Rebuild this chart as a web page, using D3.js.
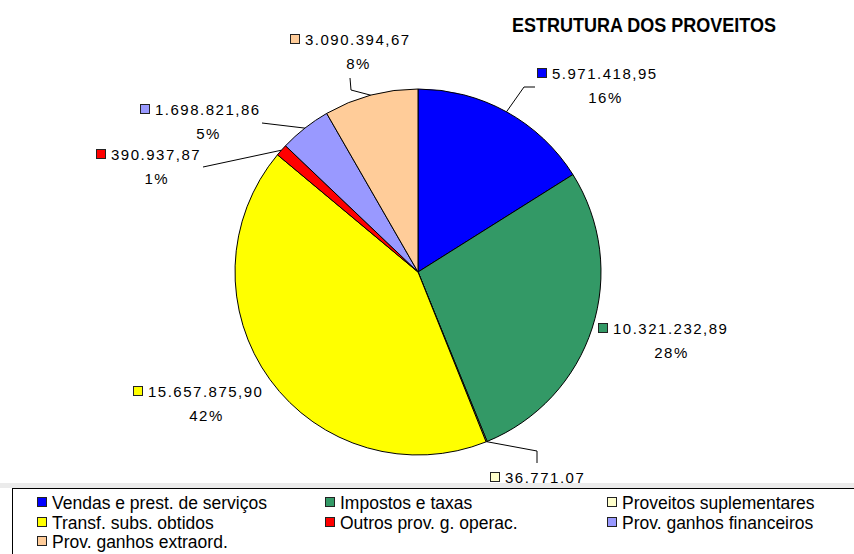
<!DOCTYPE html>
<html>
<head>
<meta charset="utf-8">
<script src="https://cdn.jsdelivr.net/npm/d3@7/dist/d3.min.js"></script>
<style>
  html, body { margin: 0; padding: 0; background: #fff; }
  svg { display: block; }
  text { font-family: "Liberation Sans", Arial, sans-serif; fill: #000; }
</style>
</head>
<body>
<svg id="chart" width="854" height="554"></svg>
<script>
// ---- data ----
const categories = [
  "Vendas e prest. de serviços",
  "Impostos e taxas",
  "Proveitos suplementares",
  "Transf. subs. obtidos",
  "Outros prov. g. operac.",
  "Prov. ganhos financeiros",
  "Prov. ganhos extraord."
];
const values = [5971418.95, 10321232.89, 36771.07, 15657875.90, 390937.87, 1698821.86, 3090394.67];
const valueLabels = ["5.971.418,95", "10.321.232,89", "36.771,07", "15.657.875,90", "390.937,87", "1.698.821,86", "3.090.394,67"];
const percentLabels = ["16%", "28%", "0%", "42%", "1%", "5%", "8%"];
const title = "ESTRUTURA DOS PROVEITOS";

// ---- styles / layout ----
const colors = ["#0000FF", "#339966", "#FFFFCC", "#FFFF00", "#FF0000", "#9999FF", "#FFCC99"];
const cx = 418, cy = 272, R = 183;
// label text start/baseline and leader elbows (annotation layout)
const labelLayout = [
  { tx: 552, ty: 79,  leader: [[524, 87], [535, 87]], pct: true },
  { tx: 613, ty: 334, leader: null, pct: true },
  { tx: 505, ty: 483, leader: [[537, 451], [537, 463]], pct: false },
  { tx: 148, ty: 397, leader: null, pct: true },
  { tx: 111, ty: 160, leader: [[203, 167]], pct: true },
  { tx: 155, ty: 115, leader: [[262, 123]], pct: true },
  { tx: 305, ty: 45,  leader: [[351, 90], [350, 78]], pct: true }
];
const labelFont = 15, labelSpacing = 1.5;
const legendCols = [52, 340, 622];
const legendRows = [509, 529, 548];

const svg = d3.select("#chart");

// title
svg.append("text")
  .attr("transform", "translate(512,32) scale(0.9,1)")
  .style("font-size", "20px").style("font-weight", "bold")
  .text(title);

// pie
const pie = d3.pie().sort(null).value(d => d).startAngle(0).endAngle(2 * Math.PI);
const arcs = pie(values);
const arc = d3.arc().innerRadius(0).outerRadius(R);
const g = svg.append("g").attr("transform", `translate(${cx},${cy})`);
g.selectAll("path.slice").data(arcs).join("path")
  .attr("class", "slice")
  .attr("d", arc)
  .attr("fill", (d, i) => colors[i])
  .attr("stroke", "#000")
  .attr("stroke-width", 1)
  .attr("stroke-linejoin", "round");

// leaders
const line = d3.line();
arcs.forEach((d, i) => {
  const L = labelLayout[i];
  if (!L.leader) return;
  const a = (d.startAngle + d.endAngle) / 2;
  const p0 = [cx + R * Math.sin(a), cy - R * Math.cos(a)];
  svg.append("path")
    .attr("d", line([p0, ...L.leader]))
    .attr("fill", "none").attr("stroke", "#000").attr("stroke-width", 1);
});

// labels
arcs.forEach((d, i) => {
  const L = labelLayout[i];
  svg.append("rect")
    .attr("x", L.tx - 14.5).attr("y", L.ty - 10.5)
    .attr("width", 9).attr("height", 9)
    .attr("fill", colors[i]).attr("stroke", "#222").attr("stroke-width", 1);
  const t = svg.append("text")
    .attr("x", L.tx).attr("y", L.ty)
    .style("font-size", labelFont + "px")
    .style("letter-spacing", labelSpacing + "px")
    .text(valueLabels[i]);
  if (L.pct) {
    const w = t.node().getComputedTextLength();
    svg.append("text")
      .attr("x", L.tx + w / 2 + labelSpacing / 2).attr("y", L.ty + 24)
      .attr("text-anchor", "middle")
      .style("font-size", labelFont + "px")
      .style("letter-spacing", labelSpacing + "px")
      .text(percentLabels[i]);
  }
});

// legend
svg.append("rect").attr("x", 0).attr("y", 483).attr("width", 854).attr("height", 5).attr("fill", "#ebebeb");
svg.append("rect").attr("x", 12.5).attr("y", 488.5).attr("width", 860).attr("height", 80)
  .attr("fill", "#fff").attr("stroke", "#000").attr("stroke-width", 1);
categories.forEach((c, i) => {
  const col = i % 3, row = Math.floor(i / 3);
  const x = legendCols[col], y = legendRows[row];
  svg.append("rect")
    .attr("x", x - 14.5).attr("y", y - 11.5)
    .attr("width", 9).attr("height", 9)
    .attr("fill", colors[i]).attr("stroke", "#222").attr("stroke-width", 1);
  svg.append("text")
    .attr("x", x).attr("y", y)
    .style("font-size", "17.5px")
    .text(c);
});
</script>
</body>
</html>
